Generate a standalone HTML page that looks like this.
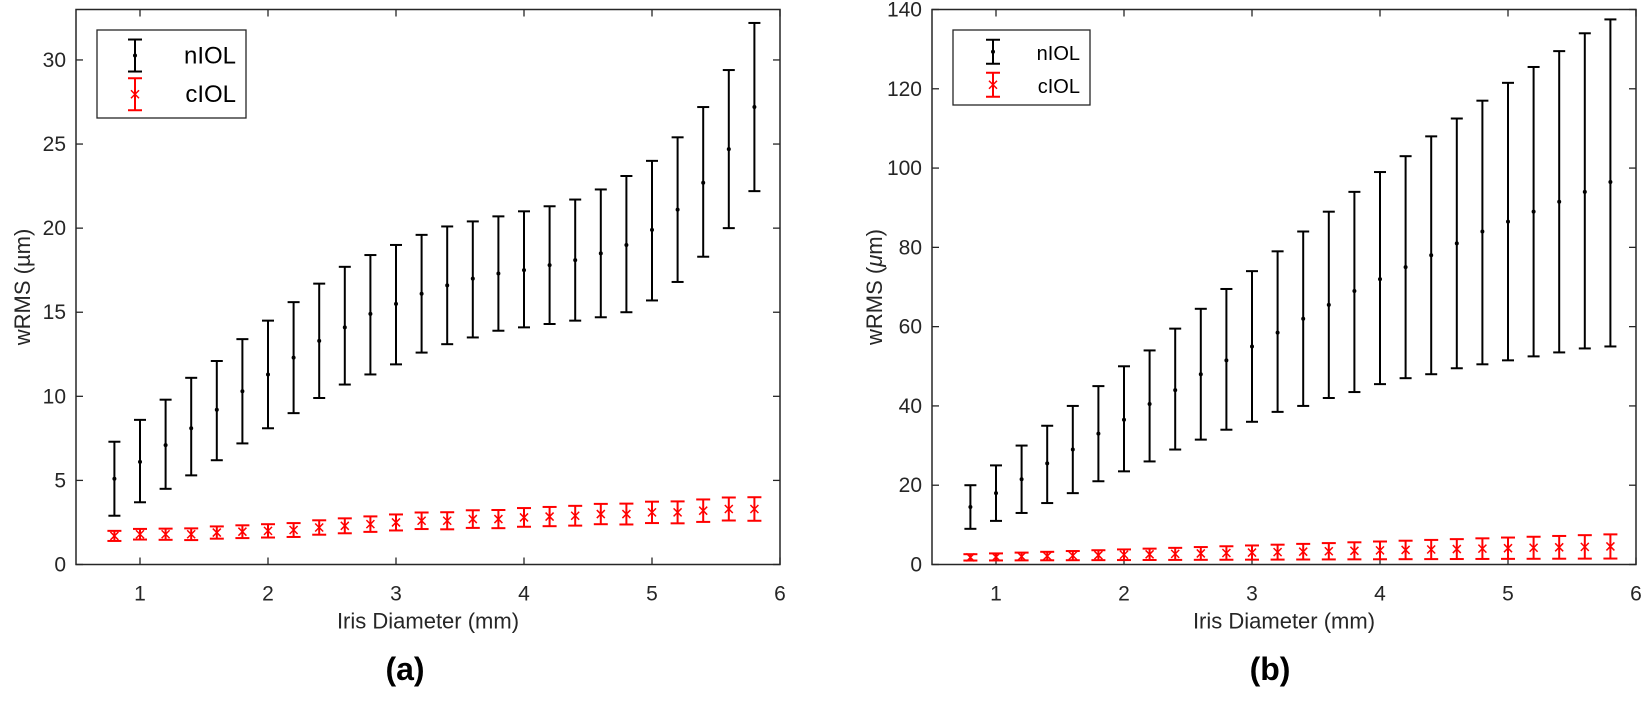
<!DOCTYPE html>
<html><head><meta charset="utf-8"><style>
body{margin:0;background:#fff}
svg text{font-family:"Liberation Sans",Arial,sans-serif;fill:#262626}
</style></head><body>
<svg id="s" width="1644" height="696" xmlns="http://www.w3.org/2000/svg"></svg>
<script>
const S=document.getElementById('s');let h='';
function ax(L,R,T,B,ymax,ystep,nm,nu,nl,cm,cu,cl,lx,lw,lh,ylab,cx){
 const X=v=>L+(v-0.5)/5.5*(R-L), Y=v=>B-v/ymax*(B-T);
 h+=`<rect x="${L}" y="${T}" width="${R-L}" height="${B-T}" fill="none" stroke="#262626" stroke-width="1.5"/>`;
 for(let i=1;i<=6;i++){const x=X(i);h+=`<line x1="${x}" y1="${B}" x2="${x}" y2="${B-7}" stroke="#262626" stroke-width="1.3"/><line x1="${x}" y1="${T}" x2="${x}" y2="${T+7}" stroke="#262626" stroke-width="1.3"/><text x="${x}" y="${B+36}" font-size="21" text-anchor="middle">${i}</text>`;}
 for(let v=0;v<=ymax+0.01;v+=ystep){const y=Y(v);if(y<T-1)continue;h+=`<line x1="${L}" y1="${y}" x2="${L+7}" y2="${y}" stroke="#262626" stroke-width="1.3"/><line x1="${R}" y1="${y}" x2="${R-7}" y2="${y}" stroke="#262626" stroke-width="1.3"/><text x="${L-10}" y="${y+7}" font-size="21" text-anchor="end">${v}</text>`;}
 for(let i=0;i<26;i++){const x=X(0.8+0.2*i);
  let u=Y(nu[i]),l=Y(nl[i]),m=Y(nm[i]);
  h+=`<g stroke="#000" stroke-width="2"><line x1="${x}" y1="${u}" x2="${x}" y2="${l}"/><line x1="${x-6}" y1="${u}" x2="${x+6}" y2="${u}"/><line x1="${x-6}" y1="${l}" x2="${x+6}" y2="${l}"/></g><circle cx="${x}" cy="${m}" r="2" fill="#000"/>`;
  u=Y(cu[i]);l=Y(cl[i]);m=Y(cm[i]);
  h+=`<g stroke="#f00" stroke-width="2"><line x1="${x}" y1="${u}" x2="${x}" y2="${l}"/><line x1="${x-7}" y1="${u}" x2="${x+7}" y2="${u}"/><line x1="${x-7}" y1="${l}" x2="${x+7}" y2="${l}"/><line x1="${x-4}" y1="${m-4}" x2="${x+4}" y2="${m+4}" stroke-width="1.5"/><line x1="${x-4}" y1="${m+4}" x2="${x+4}" y2="${m-4}" stroke-width="1.5"/></g>`;
 }
 h+=`<rect x="${lx}" y="30" width="${lw}" height="${lh}" fill="#fff" stroke="#262626" stroke-width="1.3"/>`;
 const ix=lx+(lh>80?38:40), y1=30+lh*0.29, y2=30+lh*0.73, e=lh>80?16:12;
 h+=`<g stroke="#000" stroke-width="2"><line x1="${ix}" y1="${y1-e}" x2="${ix}" y2="${y1+e}"/><line x1="${ix-7}" y1="${y1-e}" x2="${ix+7}" y2="${y1-e}"/><line x1="${ix-7}" y1="${y1+e}" x2="${ix+7}" y2="${y1+e}"/></g><circle cx="${ix}" cy="${y1}" r="2"/>`;
 h+=`<g stroke="#f00" stroke-width="2"><line x1="${ix}" y1="${y2-e}" x2="${ix}" y2="${y2+e}"/><line x1="${ix-7}" y1="${y2-e}" x2="${ix+7}" y2="${y2-e}"/><line x1="${ix-7}" y1="${y2+e}" x2="${ix+7}" y2="${y2+e}"/><line x1="${ix-4}" y1="${y2-4}" x2="${ix+4}" y2="${y2+4}" stroke-width="1.5"/><line x1="${ix-4}" y1="${y2+4}" x2="${ix+4}" y2="${y2-4}" stroke-width="1.5"/></g>`;
 const fs=lh>80?24:20;
 h+=`<text x="${lx+lw-10}" y="${y1+8}" font-size="${fs}" text-anchor="end" style="fill:#000">nIOL</text><text x="${lx+lw-10}" y="${y2+8}" font-size="${fs}" text-anchor="end" style="fill:#000">cIOL</text>`;
 h+=`<text x="${(L+R)/2}" y="${B+64}" font-size="22" text-anchor="middle">Iris Diameter (mm)</text>`;
 h+=`<text transform="translate(${cx},${(T+B)/2}) rotate(-90)" font-size="22" text-anchor="middle">${ylab}</text>`;
}
const n1m=[5.1,6.1,7.1,8.1,9.2,10.3,11.3,12.3,13.3,14.1,14.9,15.5,16.1,16.6,17.0,17.3,17.5,17.8,18.1,18.5,19.0,19.9,21.1,22.7,24.7,27.2];
const n1u=[7.3,8.6,9.8,11.1,12.1,13.4,14.5,15.6,16.7,17.7,18.4,19.0,19.6,20.1,20.4,20.7,21.0,21.3,21.7,22.3,23.1,24.0,25.4,27.2,29.4,32.2];
const n1l=[2.9,3.7,4.5,5.3,6.2,7.2,8.1,9.0,9.9,10.7,11.3,11.9,12.6,13.1,13.5,13.9,14.1,14.3,14.5,14.7,15.0,15.7,16.8,18.3,20.0,22.2];
const c1m=[1.7,1.8,1.8,1.8,1.9,1.95,2.0,2.05,2.2,2.3,2.4,2.5,2.6,2.6,2.7,2.7,2.8,2.85,2.9,3.0,3.0,3.1,3.1,3.2,3.3,3.3];
const c1u=c1m.map((v,i)=>v+0.3+i*0.016), c1l=c1m.map((v,i)=>v-0.3-i*0.016);
const n2m=[14.5,18,21.5,25.5,29,33,36.5,40.5,44,48,51.5,55,58.5,62,65.5,69,72,75,78,81,84,86.5,89,91.5,94,96.5];
const n2u=[20,25,30,35,40,45,50,54,59.5,64.5,69.5,74,79,84,89,94,99,103,108,112.5,117,121.5,125.5,129.5,134,137.5];
const n2l=[9,11,13,15.5,18,21,23.5,26,29,31.5,34,36,38.5,40,42,43.5,45.5,47,48,49.5,50.5,51.5,52.5,53.5,54.5,55];
const c2m=n2m.map((v,i)=>1.8+i*0.11), c2u=c2m.map((v,i)=>v+0.8+i*0.09), c2l=c2m.map((v,i)=>Math.max(0.2,v-0.8-i*0.09));
ax(76,780,9.5,564.5,33,5,n1m,n1u,n1l,c1m,c1u,c1l,97,149,88,'wRMS (µm)',30);
ax(932,1636,9.5,564.5,140,20,n2m,n2u,n2l,c2m,c2u,c2l,953,137,75,'wRMS (<tspan font-style="italic">μ</tspan>m)',882);
h+=`<text x="405" y="680" font-size="32" font-weight="bold" text-anchor="middle" style="fill:#000">(a)</text><text x="1270" y="680" font-size="32" font-weight="bold" text-anchor="middle" style="fill:#000">(b)</text>`;
S.innerHTML=h;
</script>
</body></html>
